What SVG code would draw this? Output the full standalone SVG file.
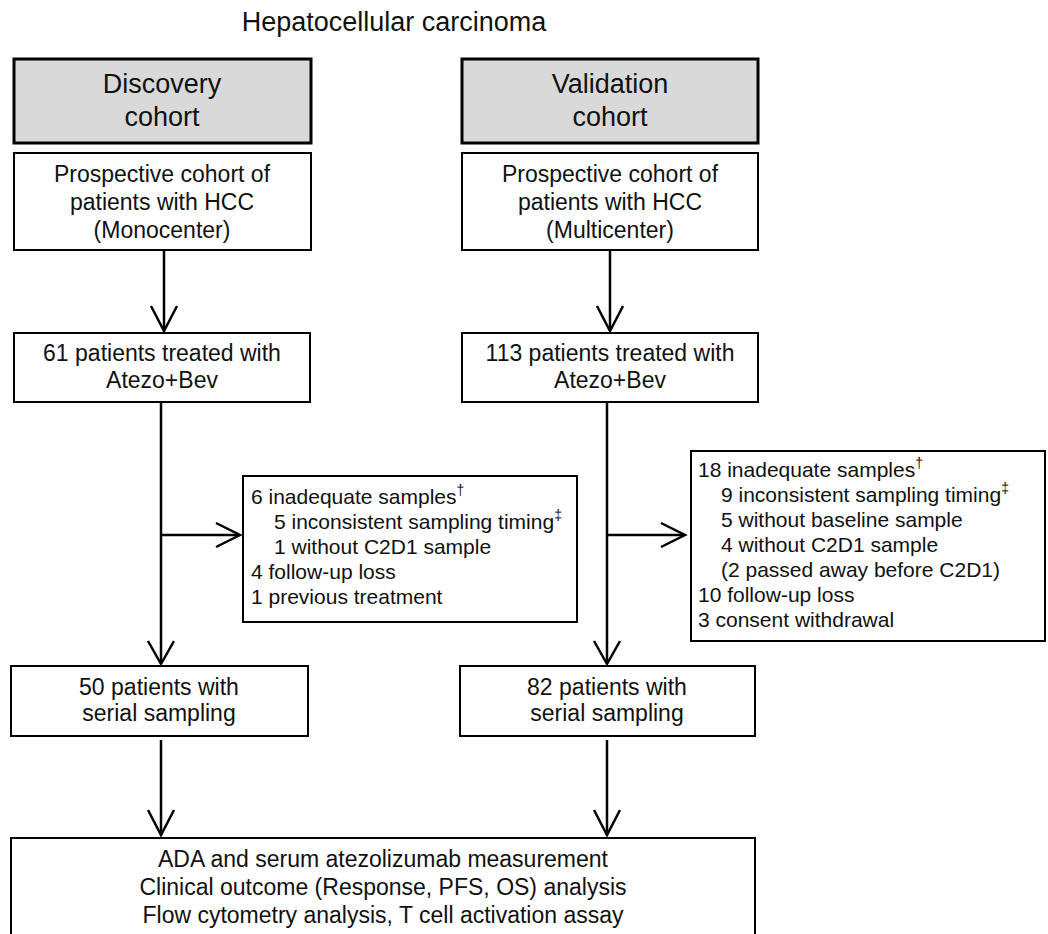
<svg xmlns="http://www.w3.org/2000/svg" width="1048" height="934" viewBox="0 0 1048 934">
<style>
text{font-family:"Liberation Sans",Arial,sans-serif;fill:#111;}
.t{font-size:27px;text-anchor:middle;}
.h{font-size:27px;text-anchor:middle;}
.b{font-size:23px;text-anchor:middle;}
.e{font-size:21px;}
.sup{font-size:14px;fill:#111;}
.hdr{fill:#d9d9d9;stroke:#000;stroke-width:3;}
.box{fill:#fff;stroke:#000;stroke-width:2;}
.ln{fill:none;stroke:#000;stroke-width:2.5;stroke-linejoin:miter;}
</style>
<rect width="1048" height="934" fill="#fff"/>
<text class="t" x="394" y="31">Hepatocellular carcinoma</text>
<g id="discovery-header">
<rect class="hdr" x="14" y="59" width="297" height="84"/>
<text class="h" x="162" y="93">Discovery</text>
<text class="h" x="162" y="126">cohort</text>
</g>
<g id="validation-header">
<rect class="hdr" x="462" y="59" width="296" height="84"/>
<text class="h" x="610" y="93">Validation</text>
<text class="h" x="610" y="126">cohort</text>
</g>
<g id="disc-prospective">
<rect class="box" x="14" y="153" width="297" height="97"/>
<text class="b" x="162" y="182">Prospective cohort of</text>
<text class="b" x="162" y="210">patients with HCC</text>
<text class="b" x="162" y="238">(Monocenter)</text>
</g>
<g id="val-prospective">
<rect class="box" x="462" y="153" width="296" height="97"/>
<text class="b" x="610" y="182">Prospective cohort of</text>
<text class="b" x="610" y="210">patients with HCC</text>
<text class="b" x="610" y="238">(Multicenter)</text>
</g>
<g id="disc-treated">
<rect class="box" x="14" y="333" width="296" height="69"/>
<text class="b" x="162" y="361">61 patients treated with</text>
<text class="b" x="162" y="388">Atezo+Bev</text>
</g>
<g id="val-treated">
<rect class="box" x="462" y="333" width="296" height="69"/>
<text class="b" x="610" y="361">113 patients treated with</text>
<text class="b" x="610" y="388">Atezo+Bev</text>
</g>
<g id="disc-excluded">
<rect class="box" x="243" y="476" width="334" height="146"/>
<text class="e" x="251" y="504">6 inadequate samples<tspan class="sup" dy="-9">†</tspan></text>
<text class="e" x="274" y="529">5 inconsistent sampling timing<tspan class="sup" dy="-9">‡</tspan></text>
<text class="e" x="274" y="554">1 without C2D1 sample</text>
<text class="e" x="251" y="579">4 follow-up loss</text>
<text class="e" x="251" y="604">1 previous treatment</text>
</g>
<g id="val-excluded">
<rect class="box" x="691" y="451" width="354" height="190"/>
<text class="e" x="698" y="477">18 inadequate samples<tspan class="sup" dy="-9">†</tspan></text>
<text class="e" x="721" y="502">9 inconsistent sampling timing<tspan class="sup" dy="-9">‡</tspan></text>
<text class="e" x="721" y="527">5 without baseline sample</text>
<text class="e" x="721" y="552">4 without C2D1 sample</text>
<text class="e" x="721" y="577">(2 passed away before C2D1)</text>
<text class="e" x="698" y="602">10 follow-up loss</text>
<text class="e" x="698" y="627">3 consent withdrawal</text>
</g>
<g id="disc-serial">
<rect class="box" x="11" y="666" width="297" height="70"/>
<text class="b" x="159" y="695">50 patients with</text>
<text class="b" x="159" y="721">serial sampling</text>
</g>
<g id="val-serial">
<rect class="box" x="460" y="666" width="295" height="70"/>
<text class="b" x="607" y="695">82 patients with</text>
<text class="b" x="607" y="721">serial sampling</text>
</g>
<g id="analysis">
<rect class="box" x="11" y="838" width="744" height="110"/>
<text class="b" x="383" y="867">ADA and serum atezolizumab measurement</text>
<text class="b" x="383" y="895">Clinical outcome (Response, PFS, OS) analysis</text>
<text class="b" x="383" y="923">Flow cytometry analysis, T cell activation assay</text>
</g>
<g id="connectors">
<line class="ln" x1="164" y1="250" x2="164" y2="330"/>
<polyline class="ln" points="151,306 164,331 177,306"/>
<line class="ln" x1="610" y1="250" x2="610" y2="330"/>
<polyline class="ln" points="597,306 610,331 623,306"/>
<line class="ln" x1="161" y1="402" x2="161" y2="663"/>
<polyline class="ln" points="148,641 161,664 174,641"/>
<line class="ln" x1="161" y1="535" x2="239" y2="535"/>
<polyline class="ln" points="216,523 240,535 216,547"/>
<line class="ln" x1="607" y1="402" x2="607" y2="663"/>
<polyline class="ln" points="594,641 607,664 620,641"/>
<line class="ln" x1="607" y1="535" x2="684" y2="535"/>
<polyline class="ln" points="661,523 685,535 661,547"/>
<line class="ln" x1="161" y1="740" x2="161" y2="834"/>
<polyline class="ln" points="148,810 161,835 174,810"/>
<line class="ln" x1="607" y1="740" x2="607" y2="834"/>
<polyline class="ln" points="594,810 607,835 620,810"/>
</g>
</svg>
